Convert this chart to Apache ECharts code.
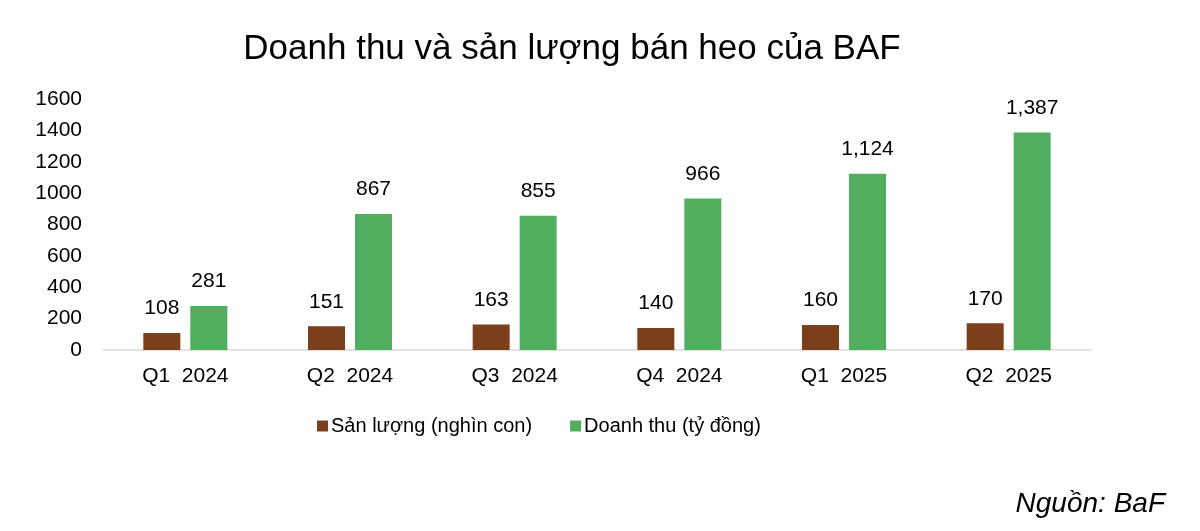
<!DOCTYPE html>
<html><head><meta charset="utf-8">
<script src="https://cdn.jsdelivr.net/npm/echarts@6/dist/echarts.min.js"></script>
<style>html,body{margin:0;padding:0;background:#fff}#c{width:1200px;height:531px}</style>
</head><body><div id="c"></div>
<script>
const categories = ['Q1  2024','Q2  2024','Q3  2024','Q4  2024','Q1  2025','Q2  2025'];
const sanLuong = [108,151,163,140,160,170];
const doanhThu = [281,867,855,966,1124,1387];
const yTicks = [0,200,400,600,800,1000,1200,1400,1600];
const font = 'Liberation Sans, Arial, sans-serif';
const chart = echarts.init(document.getElementById('c'));
chart.setOption({
  animation:false,
  title:{text:'Doanh thu và sản lượng bán heo của BAF',left:567,top:27,textAlign:'center',
    textStyle:{fontFamily:font,fontSize:35,fontWeight:'normal',color:'#000'}},
  graphic:[{type:'text',right:35,top:490,style:{text:'Nguồn: BaF',fontFamily:font,fontSize:28,fontStyle:'italic',fill:'#000'}}],
  legend:{bottom:90,left:312,itemWidth:11,itemHeight:11,itemGap:38,icon:'rect',
    textStyle:{fontFamily:font,fontSize:20,color:'#000',padding:[0,0,0,-2]}},
  grid:{left:103,right:109,top:99,bottom:181},
  xAxis:{type:'category',data:categories,
    axisLine:{lineStyle:{color:'#d9d9d9',width:1.5}},axisTick:{show:false},
    axisLabel:{fontFamily:font,fontSize:21,color:'#000',margin:16}},
  yAxis:{type:'value',min:0,max:1600,interval:200,
    axisLine:{show:false},axisTick:{show:false},splitLine:{show:false},
    axisLabel:{fontFamily:font,fontSize:21,color:'#000',margin:21,
      formatter:v=>yTicks.includes(v)?String(v):''}},
  series:[
    {name:'Sản lượng (nghìn con)',type:'bar',data:sanLuong,barWidth:37,barGap:'27%',
      itemStyle:{color:'#7B3F1C'},
      label:{show:true,position:'top',distance:14,fontFamily:font,fontSize:21,color:'#000',
        formatter:p=>p.value.toLocaleString('en-US')}},
    {name:'Doanh thu (tỷ đồng)',type:'bar',data:doanhThu,barWidth:37,
      itemStyle:{color:'#50AE5E'},
      label:{show:true,position:'top',distance:14,fontFamily:font,fontSize:21,color:'#000',
        formatter:p=>p.value.toLocaleString('en-US')}}
  ]
});
</script></body></html>
